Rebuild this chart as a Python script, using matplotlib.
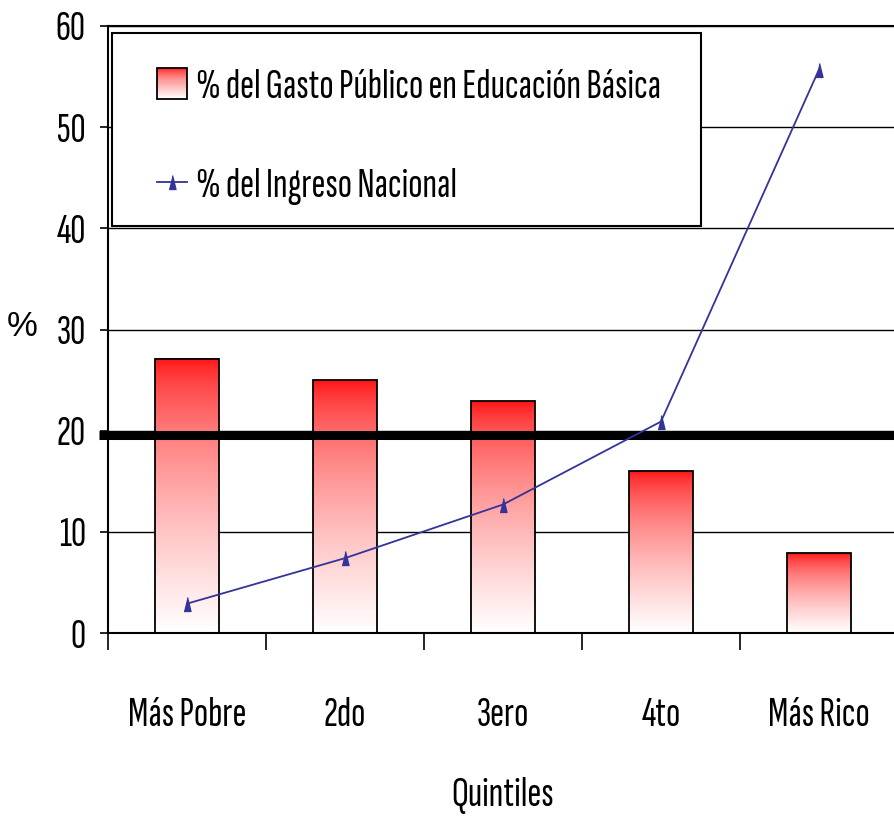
import matplotlib
matplotlib.use('Agg')
import matplotlib.pyplot as plt
from matplotlib import font_manager as fm
from matplotlib.font_manager import FontProperties
from matplotlib.textpath import TextPath
from matplotlib.patches import Rectangle
from matplotlib.lines import Line2D
from matplotlib.legend_handler import HandlerBase
from matplotlib.ticker import NullFormatter
import numpy as np

# ---------------- data ----------------
categories = ['Más Pobre', '2do', '3ero', '4to', 'Más Rico']
gasto_educ_basica = [27.1, 25.0, 22.9, 16.0, 7.9]
ingreso_nacional = [2.9, 7.4, 12.7, 20.9, 55.7]
referencia = 19.6
yticks = [0, 10, 20, 30, 40, 50, 60]
label_gasto = '% del Gasto Público en Educación Básica'
label_ingreso = '% del Ingreso Nacional'
xlabel_text = 'Quintiles'
ylabel_text = '%'

LINE_COLOR = '#333399'
W, H = 894, 816

fig = plt.figure(figsize=(W / 100, H / 100), dpi=100)
renderer = fig.canvas.get_renderer()


def text_width(fp):
    t = fig.text(0, 0, label_gasto, fontproperties=fp)
    w = t.get_window_extent(renderer).width
    t.remove()
    return w


# ---- choose the most condensed regular font available ----
bad = ('bold', 'italic', 'oblique', 'light', 'thin', 'black', 'medium', 'heavy', 'extrabold',
       'semibold', 'mono', 'serif', 'cjk', 'display')
cands = []
for e in fm.fontManager.ttflist:
    fn = e.fname.lower().split('/')[-1]
    if ('condensed' in fn or 'narrow' in fn or 'cond' in fn) and not any(b in fn for b in bad):
        if 'sans' in fn or 'liberation' in fn or 'roboto' in fn or 'lato' in fn or 'inter' in fn:
            cands.append(e.fname)
best_fp = FontProperties(family='DejaVu Sans', size=100)
best_w = text_width(best_fp)
for fname in cands:
    try:
        fp = FontProperties(fname=fname, size=100)
        w = text_width(fp)
        if w < best_w:
            best_w, best_fp = w, fp
    except Exception:
        pass

# size: width of legend label ~465 px, cap height at most ~36 px
fs_w = 100 * 465 / best_w
capH = TextPath((0, 0), 'H', prop=best_fp.copy()).get_extents().height
capH = capH * (100 / best_fp.get_size_in_points())
fs_h = 36 * 72 / capH
fs = min(fs_w, fs_h)
fs_px = fs * 100 / 72


def FP(size=fs):
    p = best_fp.copy()
    p.set_size(size)
    return p


def grad_rgb(f):
    # f: 0 bottom (white) -> 1 top (red)
    w = (1 - f) ** 0.6
    top = 12
    w = top + w * (255 - top)
    return (1.0, w / 255, w / 255)


ax = fig.add_axes([108 / W, 1 - 633 / H, 790 / W, 607 / H])
x = np.arange(len(categories))
bar_w = 0.4

fvals = np.linspace(0, 1, 256)
grad = np.array([grad_rgb(f) for f in fvals]).reshape(256, 1, 3)
for xi, h in zip(x, gasto_educ_basica):
    ax.imshow(grad, extent=(xi - bar_w / 2, xi + bar_w / 2, 0, h), origin='lower',
              aspect='auto', zorder=2, interpolation='bilinear')
ax.bar(x, gasto_educ_basica, width=bar_w, facecolor='none', edgecolor='black',
       linewidth=1.3, zorder=3)

ax.axhline(referencia, xmin=-0.0115, xmax=1, color='black', lw=6.5,
           solid_capstyle='butt', clip_on=False, zorder=4)

tri = [(-0.25, -0.5), (0.25, -0.5), (0, 0.5)]
ax.plot(x, ingreso_nacional, color=LINE_COLOR, lw=1.3, marker=tri, markersize=10,
        markerfacecolor=LINE_COLOR, markeredgecolor=LINE_COLOR, zorder=5, clip_on=False)

ax.set_xlim(-0.5, len(categories) - 0.5)
ax.set_ylim(yticks[0], yticks[-1])
ax.set_yticks(yticks)
ax.yaxis.grid(True, color='black', lw=1.0)
ax.set_axisbelow(True)

ax.set_xticks(np.append(x - 0.5, x[-1] + 0.5))
ax.xaxis.set_major_formatter(NullFormatter())
ax.set_xticks(x, labels=categories, minor=True)
ax.tick_params(axis='x', which='major', length=12, width=1.2, direction='out')
ax.tick_params(axis='x', which='minor', length=0, pad=46)
ax.tick_params(axis='y', length=6, width=1.2, direction='out', pad=10)
for lab in ax.get_xticklabels(minor=True) + ax.get_yticklabels():
    lab.set_fontproperties(FP())

ax.spines['right'].set_visible(False)
for s in ['left', 'bottom', 'top']:
    ax.spines[s].set_linewidth(1.5)

ax.set_xlabel(xlabel_text, fontproperties=FP(), va='center')
ax.xaxis.set_label_coords(0.5, (633 - 795) / 607)
ax.set_ylabel(ylabel_text, rotation=0, fontsize=25, family=['Liberation Sans', 'DejaVu Sans'],
              va='center', ha='center')
ax.yaxis.set_label_coords((22 - 108) / 790, (633 - 327) / 607)


class GradientHandler(HandlerBase):
    def create_artists(self, legend, orig_handle, xdescent, ydescent, width, height,
                       fontsize, trans):
        arts = []
        n = 30
        for i in range(n):
            f = (i + 0.5) / n
            arts.append(Rectangle((-xdescent, -ydescent + height * i / n), width, height / n,
                                  facecolor=grad_rgb(f), edgecolor='none', transform=trans))
        arts.append(Rectangle((-xdescent, -ydescent), width, height, facecolor='none',
                              edgecolor='black', lw=1.3, transform=trans))
        return arts


# legend frame
frame = Rectangle((112 / W, 1 - 226 / H), 589 / W, 193 / H, transform=fig.transFigure,
                  facecolor='white', edgecolor='black', lw=1.5, zorder=6)
ax.add_patch(frame)

row_h = max(1.2 * fs_px, 33)
h_bar = Rectangle((0, 0), 1, 1)
h_line = Line2D([], [], color=LINE_COLOR, lw=1.3, marker=tri, markersize=10,
                markerfacecolor=LINE_COLOR, markeredgecolor=LINE_COLOR)
leg = ax.legend([h_bar, h_line], [label_gasto, label_ingreso],
                handler_map={Rectangle: GradientHandler()},
                loc='upper left', bbox_to_anchor=(157 / W, 1 - (93 - row_h / 2) / H),
                bbox_transform=fig.transFigure, frameon=False, borderpad=0,
                borderaxespad=0, handlelength=30 / fs_px, handleheight=33 / fs_px,
                handletextpad=9 / fs_px, labelspacing=(111 - row_h) / fs_px, prop=FP())
leg.set_zorder(7)

fig.savefig('out.png', dpi=100)
